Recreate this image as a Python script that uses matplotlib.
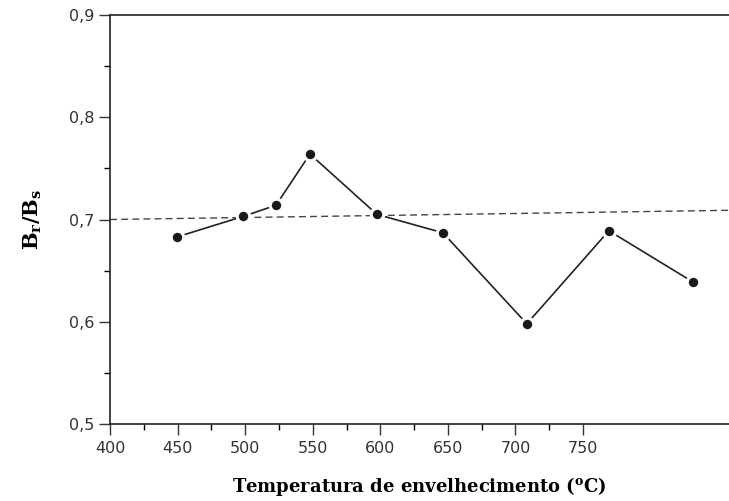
import numpy as np
import matplotlib
matplotlib.use("Agg")
import matplotlib.pyplot as plt
from matplotlib.ticker import FixedLocator, FuncFormatter

# values
temps = [449.6, 498.4, 522.8, 547.9, 597.5, 646.3, 708.4, 769.1, 831.2]
ratio = [0.683, 0.703, 0.714, 0.764, 0.705, 0.687, 0.598, 0.689, 0.639]
ref_x = [400, 858]
ref_y = [0.700, 0.709]
xmajor = [400, 450, 500, 550, 600, 650, 700, 750]
xminor = [425, 475, 525, 575, 625, 675, 725]
ymajor = [0.5, 0.6, 0.7, 0.8, 0.9]
yminor = [0.55, 0.65, 0.75, 0.85]

fig = plt.figure(figsize=(7.29, 5.01), dpi=100)
ax = fig.add_axes([0.151, 0.1537, 0.849, 0.8163])

ax.plot(ref_x, ref_y, linestyle=(0, (5, 3)), color='#444444', lw=1.0)
ax.plot(temps, ratio, color='#222222', lw=1.2, marker='o', ms=9,
        mfc='#1a1a1a', mec='white', mew=2.2)

ax.set_xlim(400, 858)
ax.set_ylim(0.5, 0.9)
ax.spines['right'].set_visible(False)
for s in ['left', 'bottom', 'top']:
    ax.spines[s].set_linewidth(1.2)
    ax.spines[s].set_color('#222222')

ax.xaxis.set_major_locator(FixedLocator(xmajor))
ax.xaxis.set_minor_locator(FixedLocator(xminor))
ax.yaxis.set_major_locator(FixedLocator(ymajor))
ax.yaxis.set_minor_locator(FixedLocator(yminor))
ax.yaxis.set_major_formatter(FuncFormatter(lambda v, p: ('%.1f' % v).replace('.', ',')))
ax.tick_params(which='major', direction='out', length=8, width=1, labelsize=11.5,
               colors='#333333', top=False, right=False)
ax.tick_params(which='minor', direction='out', length=4, width=1,
               top=False, right=False)
ax.tick_params(axis='x', pad=4)

ax.set_xlabel('Temperatura de envelhecimento ($\\mathregular{^{o}}$C)',
              family='DejaVu Serif', fontweight='bold', fontsize=13, labelpad=14)
ax.set_ylabel('$\\mathregular{B_r/B_s}$', family='DejaVu Serif', fontweight='bold',
              fontsize=15, labelpad=18)

fig.savefig('out.png', dpi=100)
